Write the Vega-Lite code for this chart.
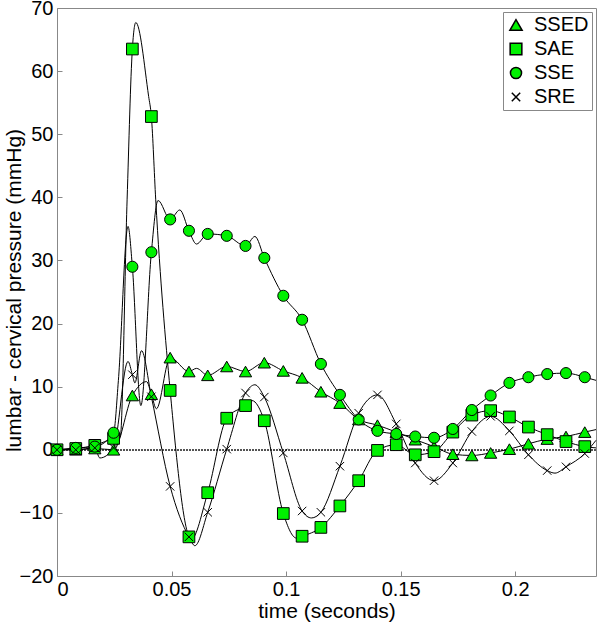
{
 "$schema": "https://vega.github.io/schema/vega-lite/v6.json",
 "width": 539, "height": 568,
 "autosize": "none",
 "padding": {"left": 57, "top": 8, "right": 4, "bottom": 47},
 "config": {
  "view": {"stroke": "#888", "strokeWidth": 1},
  "font": "Liberation Sans",
  "axis": {"domain": false, "grid": false, "tickColor": "#888", "tickSize": -5, "labelFontSize": 20, "labelColor": "#000", "titleFontSize": 21, "titleFontWeight": "normal", "titleColor": "#000", "labelFont": "Liberation Sans", "titleFont": "Liberation Sans", "labelPadding": 9}
 },
 "data": {"values": [
  {"s":"SSED","t":0,"v":0,"m":1},{"s":"SSED","t":0.0082,"v":0,"m":1},{"s":"SSED","t":0.0165,"v":0.2,"m":1},{"s":"SSED","t":0.0247,"v":0,"m":1},{"s":"SSED","t":0.0329,"v":8.6,"m":1},{"s":"SSED","t":0.0412,"v":8.8,"m":1},{"s":"SSED","t":0.0494,"v":14.6,"m":1},{"s":"SSED","t":0.0576,"v":12.4,"m":1},{"s":"SSED","t":0.0658,"v":11.8,"m":1},{"s":"SSED","t":0.0741,"v":13.2,"m":1},{"s":"SSED","t":0.0823,"v":12.4,"m":1},{"s":"SSED","t":0.0905,"v":13.8,"m":1},{"s":"SSED","t":0.0988,"v":12.5,"m":1},{"s":"SSED","t":0.107,"v":11.4,"m":1},{"s":"SSED","t":0.1152,"v":9.2,"m":1},{"s":"SSED","t":0.1235,"v":7.4,"m":1},{"s":"SSED","t":0.1317,"v":4.8,"m":1},{"s":"SSED","t":0.1399,"v":3.9,"m":1},{"s":"SSED","t":0.1481,"v":2.8,"m":1},{"s":"SSED","t":0.1564,"v":1.6,"m":1},{"s":"SSED","t":0.1646,"v":0.5,"m":1},{"s":"SSED","t":0.1728,"v":-0.7,"m":1},{"s":"SSED","t":0.1811,"v":-0.9,"m":1},{"s":"SSED","t":0.1893,"v":-0.5,"m":1},{"s":"SSED","t":0.1975,"v":0.1,"m":1},{"s":"SSED","t":0.2058,"v":0.95,"m":1},{"s":"SSED","t":0.214,"v":1.7,"m":1},{"s":"SSED","t":0.2222,"v":2.1,"m":1},{"s":"SSED","t":0.2304,"v":2.8,"m":1},
  {"s":"SSED","t":0.0391,"v":10.8,"m":0},{"s":"SSED","t":0.0434,"v":6.5,"m":0},{"s":"SSED","t":0.0609,"v":12.9,"m":0},{"s":"SSED","t":0.2353,"v":3.2,"m":0},
  {"s":"SAE","t":0,"v":0,"m":1},{"s":"SAE","t":0.0082,"v":0.2,"m":1},{"s":"SAE","t":0.0165,"v":0.7,"m":1},{"s":"SAE","t":0.0247,"v":1.8,"m":1},{"s":"SAE","t":0.0329,"v":63.5,"m":1},{"s":"SAE","t":0.0412,"v":52.8,"m":1},{"s":"SAE","t":0.0494,"v":9.4,"m":1},{"s":"SAE","t":0.0576,"v":-13.8,"m":1},{"s":"SAE","t":0.0658,"v":-6.8,"m":1},{"s":"SAE","t":0.0741,"v":5.0,"m":1},{"s":"SAE","t":0.0823,"v":7.0,"m":1},{"s":"SAE","t":0.0905,"v":4.6,"m":1},{"s":"SAE","t":0.0988,"v":-10.1,"m":1},{"s":"SAE","t":0.107,"v":-13.7,"m":1},{"s":"SAE","t":0.1152,"v":-12.3,"m":1},{"s":"SAE","t":0.1235,"v":-8.9,"m":1},{"s":"SAE","t":0.1317,"v":-4.9,"m":1},{"s":"SAE","t":0.1399,"v":-0.1,"m":1},{"s":"SAE","t":0.1481,"v":0.8,"m":1},{"s":"SAE","t":0.1564,"v":-0.8,"m":1},{"s":"SAE","t":0.1646,"v":-0.3,"m":1},{"s":"SAE","t":0.1728,"v":2.8,"m":1},{"s":"SAE","t":0.1811,"v":5.5,"m":1},{"s":"SAE","t":0.1893,"v":6.2,"m":1},{"s":"SAE","t":0.1975,"v":5.2,"m":1},{"s":"SAE","t":0.2058,"v":3.6,"m":1},{"s":"SAE","t":0.214,"v":2.4,"m":1},{"s":"SAE","t":0.2222,"v":1.3,"m":1},{"s":"SAE","t":0.2304,"v":0.5,"m":1},
  {"s":"SAE","t":0.0276,"v":2.0,"m":0},{"s":"SAE","t":0.0306,"v":39.6,"m":0},{"s":"SAE","t":0.0344,"v":67.7,"m":0},{"s":"SAE","t":0.04,"v":56,"m":0},{"s":"SAE","t":0.0431,"v":39.6,"m":0},{"s":"SAE","t":0.0584,"v":-14.3,"m":0},{"s":"SAE","t":0.0851,"v":7.8,"m":0},{"s":"SAE","t":0.1046,"v":-14.0,"m":0},{"s":"SAE","t":0.2353,"v":0.3,"m":0},
  {"s":"SSE","t":0,"v":0,"m":1},{"s":"SSE","t":0.0082,"v":0.3,"m":1},{"s":"SSE","t":0.0165,"v":0.5,"m":1},{"s":"SSE","t":0.0247,"v":2.7,"m":1},{"s":"SSE","t":0.0329,"v":29.0,"m":1},{"s":"SSE","t":0.0412,"v":31.3,"m":1},{"s":"SSE","t":0.0494,"v":36.5,"m":1},{"s":"SSE","t":0.0576,"v":34.7,"m":1},{"s":"SSE","t":0.0658,"v":34.2,"m":1},{"s":"SSE","t":0.0741,"v":33.9,"m":1},{"s":"SSE","t":0.0823,"v":32.3,"m":1},{"s":"SSE","t":0.0905,"v":30.4,"m":1},{"s":"SSE","t":0.0988,"v":24.4,"m":1},{"s":"SSE","t":0.107,"v":20.6,"m":1},{"s":"SSE","t":0.1152,"v":13.6,"m":1},{"s":"SSE","t":0.1235,"v":8.7,"m":1},{"s":"SSE","t":0.1317,"v":4.8,"m":1},{"s":"SSE","t":0.1399,"v":3.0,"m":1},{"s":"SSE","t":0.1481,"v":2.5,"m":1},{"s":"SSE","t":0.1564,"v":2.1,"m":1},{"s":"SSE","t":0.1646,"v":1.9,"m":1},{"s":"SSE","t":0.1728,"v":3.3,"m":1},{"s":"SSE","t":0.1811,"v":6.3,"m":1},{"s":"SSE","t":0.1893,"v":8.6,"m":1},{"s":"SSE","t":0.1975,"v":10.6,"m":1},{"s":"SSE","t":0.2058,"v":11.5,"m":1},{"s":"SSE","t":0.214,"v":12.0,"m":1},{"s":"SSE","t":0.2222,"v":12.15,"m":1},{"s":"SSE","t":0.2304,"v":11.5,"m":1},
  {"s":"SSE","t":0.0268,"v":11,"m":0},{"s":"SSE","t":0.031,"v":35.4,"m":0},{"s":"SSE","t":0.0366,"v":7,"m":0},{"s":"SSE","t":0.0441,"v":39.5,"m":0},{"s":"SSE","t":0.0536,"v":38.0,"m":0},{"s":"SSE","t":0.0609,"v":32.6,"m":0},{"s":"SSE","t":0.0864,"v":33.8,"m":0},{"s":"SSE","t":0.2353,"v":11.0,"m":0},
  {"s":"SRE","t":0,"v":0,"m":1},{"s":"SRE","t":0.0082,"v":0,"m":1},{"s":"SRE","t":0.0165,"v":0.3,"m":1},{"s":"SRE","t":0.0247,"v":0.3,"m":1},{"s":"SRE","t":0.0329,"v":11.9,"m":1},{"s":"SRE","t":0.0412,"v":8.4,"m":1},{"s":"SRE","t":0.0494,"v":-5.8,"m":1},{"s":"SRE","t":0.0576,"v":-13.8,"m":1},{"s":"SRE","t":0.0658,"v":-9.9,"m":1},{"s":"SRE","t":0.0741,"v":0.1,"m":1},{"s":"SRE","t":0.0823,"v":9.0,"m":1},{"s":"SRE","t":0.0905,"v":8.35,"m":1},{"s":"SRE","t":0.0988,"v":-0.5,"m":1},{"s":"SRE","t":0.107,"v":-9.7,"m":1},{"s":"SRE","t":0.1152,"v":-9.9,"m":1},{"s":"SRE","t":0.1235,"v":-2.6,"m":1},{"s":"SRE","t":0.1317,"v":5.8,"m":1},{"s":"SRE","t":0.1399,"v":8.7,"m":1},{"s":"SRE","t":0.1481,"v":4.1,"m":1},{"s":"SRE","t":0.1564,"v":-2.1,"m":1},{"s":"SRE","t":0.1646,"v":-4.9,"m":1},{"s":"SRE","t":0.1728,"v":-2.1,"m":1},{"s":"SRE","t":0.1811,"v":2.9,"m":1},{"s":"SRE","t":0.1893,"v":5.3,"m":1},{"s":"SRE","t":0.1975,"v":3.0,"m":1},{"s":"SRE","t":0.2058,"v":-0.8,"m":1},{"s":"SRE","t":0.214,"v":-3.3,"m":1},{"s":"SRE","t":0.2222,"v":-2.7,"m":1},{"s":"SRE","t":0.2304,"v":-0.6,"m":1},
  {"s":"SRE","t":0.0187,"v":-1.3,"m":0},{"s":"SRE","t":0.031,"v":14.0,"m":0},{"s":"SRE","t":0.034,"v":10.6,"m":0},{"s":"SRE","t":0.0369,"v":15.7,"m":0},{"s":"SRE","t":0.0602,"v":-15.2,"m":0},{"s":"SRE","t":0.0864,"v":10.3,"m":0},{"s":"SRE","t":0.1111,"v":-10.8,"m":0},{"s":"SRE","t":0.2174,"v":-3.7,"m":0},{"s":"SRE","t":0.2353,"v":1.5,"m":0}
 ]},
 "encoding": {
  "x": {"field": "t", "type": "quantitative", "scale": {"domain": [0, 0.2353], "nice": false, "zero": false}, "axis": {"title": "time (seconds)", "values": [0, 0.05, 0.1, 0.15, 0.2], "format": "~g", "labelPadding": 8, "titleX": 269.5, "titleY": 41, "titleBaseline": "alphabetic", "titleAlign": "center"}},
  "y": {"field": "v", "type": "quantitative", "scale": {"domain": [-20, 70], "nice": false}, "axis": {"title": "lumbar - cervical pressure (mmHg)", "values": [-20, -10, 0, 10, 20, 30, 40, 50, 60, 70], "titleX": -37, "titleY": 282, "titleBaseline": "alphabetic", "titleAlign": "center", "titleAngle": 270}}
 },
 "layer": [
  {"mark": {"type": "rule", "strokeDash": [1.5, 1.5], "color": "#555", "strokeWidth": 1}, "encoding": {"y": {"datum": 0}, "x": null}},
  {"mark": {"type": "line", "interpolate": "monotone", "color": "black", "strokeWidth": 1}, "encoding": {"detail": {"field": "s"}}},
  {"transform": [{"filter": "datum.m == 1"}],
   "mark": {"type": "point", "filled": true, "stroke": "black", "strokeWidth": 1, "opacity": 1},
   "encoding": {
    "shape": {"field": "s", "type": "nominal", "scale": {"domain": ["SSED", "SAE", "SSE", "SRE"], "range": ["triangle-up", "square", "circle", "M-0.8,-0.8L0.8,0.8M-0.8,0.8L0.8,-0.8"]}, "legend": {"title": null, "orient": "none", "legendX": 446, "legendY": 4, "strokeColor": "#888", "fillColor": "white", "padding": 3, "labelFontSize": 20, "labelFont": "Liberation Sans", "labelColor": "#000", "rowPadding": 4, "labelOffset": 8, "encode": {"symbols": {"update": {"stroke": {"value": "black"}, "strokeWidth": {"value": 1}}}}}},
    "fill": {"field": "s", "type": "nominal", "scale": {"domain": ["SSED", "SAE", "SSE", "SRE"], "range": ["#00f000", "#00f000", "#00f000", "transparent"]}, "legend": {"title": null, "orient": "none", "legendX": 446, "legendY": 4, "strokeColor": "#888", "fillColor": "white", "padding": 3, "labelFontSize": 20, "labelFont": "Liberation Sans", "labelColor": "#000", "rowPadding": 4, "labelOffset": 8, "encode": {"symbols": {"update": {"stroke": {"value": "black"}, "strokeWidth": {"value": 1}}}}}},
    "size": {"field": "s", "type": "nominal", "scale": {"domain": ["SSED", "SAE", "SSE", "SRE"], "range": [150, 110, 120, 100]}, "legend": {"title": null, "orient": "none", "legendX": 446, "legendY": 4, "strokeColor": "#888", "fillColor": "white", "padding": 3, "labelFontSize": 20, "labelFont": "Liberation Sans", "labelColor": "#000", "rowPadding": 4, "labelOffset": 8, "encode": {"symbols": {"update": {"stroke": {"value": "black"}, "strokeWidth": {"value": 1}}}}}}
   }}
 ]
}
